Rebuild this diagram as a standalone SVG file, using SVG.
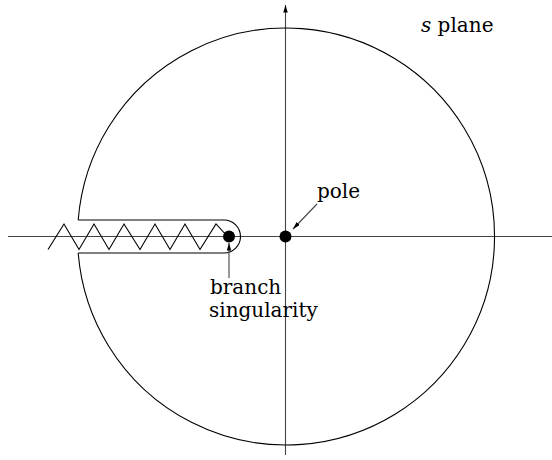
<svg xmlns="http://www.w3.org/2000/svg" width="552" height="460" viewBox="0 0 552 460">
<style>
.ln{fill:none;stroke:#000;stroke-width:1.1}
.ax{fill:none;stroke:#444;stroke-width:1.1}
text{font-family:'DejaVu Serif','Liberation Serif',serif;font-size:20px;fill:#000}
</style>
<defs>
<marker id="ah" viewBox="0 0 10 6" refX="10" refY="3" markerWidth="8" markerHeight="4.5" markerUnits="userSpaceOnUse" orient="auto">
<path d="M0,0 L10,3 L0,6 Z" fill="#000"/>
</marker>
</defs>
<rect width="552" height="460" fill="#fff"/>
<g id="axes">
<line class="ax" x1="8" y1="236.5" x2="552" y2="236.5"/>
<line class="ax" x1="285.5" y1="455" x2="285.5" y2="5" marker-end="url(#ah)"/>
</g>
<g id="contour">
<path class="ln" d="M78.2,220 A208.5,208.5 0 1 1 78.2,253"/>
<path class="ln" d="M78.2,220 H224 A16.5,16.5 0 0 1 224,253 H78.2"/>
</g>
<g id="branch-cut">
<polyline class="ln" points="48,249.5 64,224 79,249.5 94,224 109,249.5 124,224 140,249.5 155,224 170,249.5 185,224 200,249.5 216,224 228,237"/>
</g>
<g id="branch-point">
<circle cx="229" cy="236.5" r="6" fill="#000"/>
</g>
<g id="pole">
<circle cx="285.5" cy="236.5" r="6" fill="#000"/>
</g>
<g id="connectors">
<line class="ax" x1="229" y1="278" x2="229" y2="243" marker-end="url(#ah)"/>
<line class="ax" x1="317" y1="204" x2="293" y2="229" marker-end="url(#ah)"/>
</g>
<g id="labels">
<text x="421" y="32"><tspan font-style="italic">s</tspan> plane</text>
<text x="317" y="198">pole</text>
<text x="210" y="294">branch</text>
<text x="209" y="317">singularity</text>
</g>
</svg>
